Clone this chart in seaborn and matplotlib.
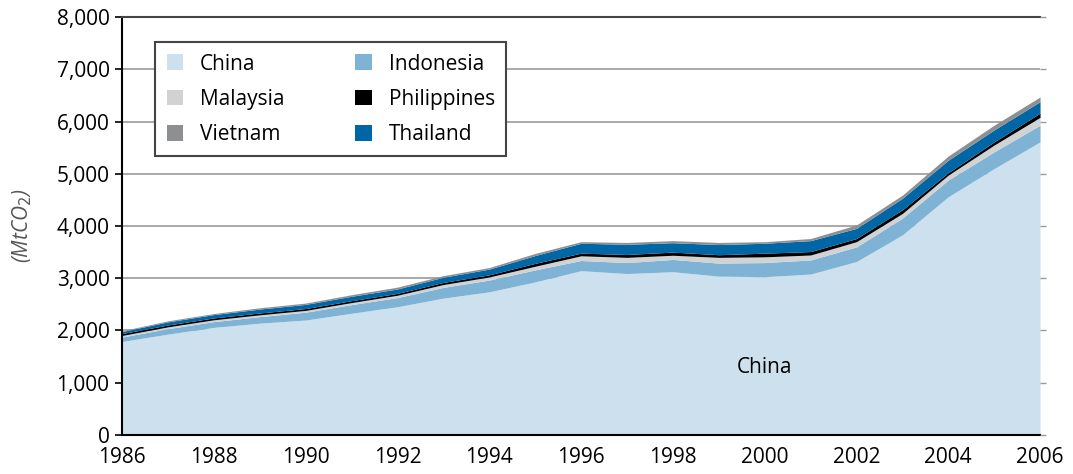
import numpy as np
import matplotlib.pyplot as plt
import seaborn as sns

# ─── Data (MtCO2) ────────────────────────────────────────────────────────────
years = list(range(1986, 2007))
china       = [1790, 1930, 2060, 2140, 2200, 2330, 2455, 2620, 2740, 2930, 3145,
               3090, 3125, 3040, 3030, 3080, 3320, 3830, 4560, 5100, 5610]
indonesia   = [85, 105, 110, 125, 150, 165, 175, 205, 225, 230, 195,
               210, 235, 250, 270, 270, 280, 320, 320, 320, 320]
malaysia    = [30, 35, 35, 35, 35, 40, 45, 55, 60, 70, 90,
               100, 80, 110, 110, 95, 100, 90, 95, 130, 150]
philippines = [35, 35, 35, 35, 35, 35, 35, 40, 40, 55, 50,
               55, 60, 50, 70, 65, 60, 70, 45, 60, 80]
thailand    = [40, 60, 65, 75, 80, 85, 85, 100, 110, 150, 190,
               195, 180, 195, 190, 210, 195, 220, 240, 230, 220]
vietnam     = [15, 20, 20, 25, 25, 30, 35, 30, 30, 40, 30,
               35, 40, 40, 30, 40, 65, 60, 80, 90, 90]

countries = ["China", "Indonesia", "Malaysia", "Philippines", "Thailand", "Vietnam"]
series = [china, indonesia, malaysia, philippines, thailand, vietnam]

# ─── Style ───────────────────────────────────────────────────────────────────
COLORS = {
    "China":       "#cce0ee",
    "Indonesia":   "#7fb3d5",
    "Malaysia":    "#d1d2d4",
    "Philippines": "#000000",
    "Thailand":    "#0066a6",
    "Vietnam":     "#8e8f91",
}
sns.set_theme(style="white")
plt.rcParams["font.family"] = ["Open Sans", "DejaVu Sans"]

fig = plt.figure(figsize=(10.73, 4.74), dpi=100)
ax = fig.add_axes([0.1137, 0.0823, 0.8556, 0.8818])

ax.stackplot(years, *series, labels=countries,
             colors=[COLORS[c] for c in countries], linewidth=0)

ax.set_xlim(1986, 2006)
ax.set_ylim(0, 8000)
ax.set_xticks(range(1986, 2007, 2))
ax.set_yticks(range(0, 8001, 1000))
ax.yaxis.set_major_formatter(plt.FuncFormatter(lambda v, _: f"{int(v):,}"))

ax.yaxis.grid(True, color="#9a9a9a", linewidth=1.2)
ax.xaxis.grid(False)
ax.set_axisbelow(True)

for s in ["left", "bottom"]:
    ax.spines[s].set_color("black")
    ax.spines[s].set_linewidth(1.5)
ax.spines["top"].set_color("#444444")
ax.spines["top"].set_linewidth(1.5)
ax.spines["right"].set_visible(False)

ax.tick_params(axis="y", which="both", left=True, right=False, direction="out",
               length=5, width=1.2, color="black", labelsize=15, pad=4,
               labelcolor="black")
ax.tick_params(axis="x", length=0, labelsize=15, pad=9, labelcolor="black")

# small grey ticks on the right-hand side
ax2 = ax.twinx()
ax2.set_ylim(ax.get_ylim())
ax2.set_yticks(range(0, 8001, 1000))
ax2.set_yticklabels([])
ax2.tick_params(axis="y", direction="out", length=4, width=1, color="#9a9a9a")
for s in ax2.spines.values():
    s.set_visible(False)

ax.set_ylabel("(MtCO$_2$)", fontsize=15, fontstyle="italic", color="#555555",
              labelpad=16)

ax.text(2000, 1300, "China", fontsize=15, ha="center", va="center", color="black")

handles, labels = ax.get_legend_handles_labels()
order = [0, 2, 5, 1, 3, 4]
leg = ax.legend([handles[i] for i in order], [labels[i] for i in order],
                ncol=2, loc="upper left", bbox_to_anchor=(0.036, 0.94),
                borderaxespad=0, labelcolor="black",
                fontsize=15, frameon=True, fancybox=False, edgecolor="#444444",
                handlelength=0.8, handleheight=0.8, handletextpad=0.8,
                columnspacing=3.4, labelspacing=0.68, borderpad=0.55)
leg.get_frame().set_linewidth(1.5)
leg.get_frame().set_facecolor("white")
leg.get_frame().set_alpha(1)

plt.savefig("out.png", dpi=100)
